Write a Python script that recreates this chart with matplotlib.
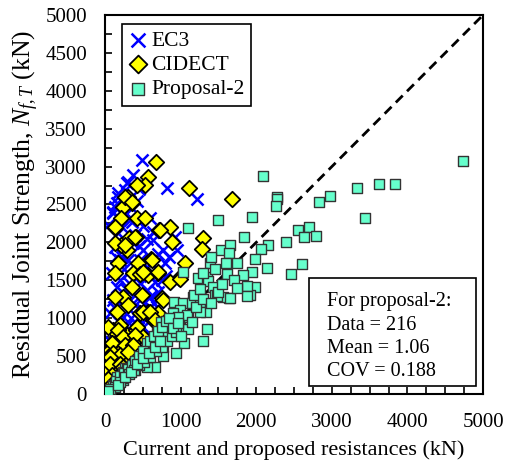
import matplotlib
matplotlib.use("Agg")
import matplotlib.pyplot as plt
from matplotlib.patches import Rectangle
from matplotlib.ticker import MultipleLocator

plt.rcParams['font.family'] = ['Liberation Serif', 'DejaVu Serif']
plt.rcParams['mathtext.fontset'] = 'custom'
plt.rcParams['mathtext.rm'] = 'Liberation Serif'
plt.rcParams['mathtext.it'] = 'Liberation Serif:italic'

# ---------------- data (x = resistance, y = residual joint strength, kN) -------------
ec3_x = [485, 375, 309, 265, 816, 1213, 176, 132, 110, 331, 44, 287, 176, 154, 110, 595,
         639, 507, 353, 926, 948, 639, 794, 705, 662, 552, 595, 463, 684, 507, 617, 507,
         375, 287, 463, 375, 198, 110, 22, 176, 132, 198, 88, 154, 110, 66, 44, 22, 287,
         419, 375, 331, 242, 463, 552, 771, 463, 309, 375, 220, 250, 200, 260, 330, 400,
         430, 350, 250, 150, 180, 90, 60, 120, 500, 550, 700, 750, 850, 800, 700, 650,
         600, 550, 420, 300, 240, 160, 80, 40, 30, 100, 60, 120, 200, 150, 260, 220, 350,
         420, 450, 400, 450, 600, 300, 340, 280, 200]
ec3_y = [3086, 2889, 2800, 2691, 2713, 2568, 2602, 2471, 2383, 2295, 2229, 2778, 2647, 2514,
         2405, 2317, 2141, 2216, 2273, 2075, 1899, 2031, 1723, 1636, 1481, 1372, 1284, 1240,
         1152, 1108, 998, 888, 888, 756, 580, 492, 360, 185, 53, 2119, 1943, 1767, 1592,
         1416, 1240, 1064, 844, 580, 1372, 1547, 1196, 1108, 1020, 1460, 1679, 1899, 1767,
         1767, 1988, 1800, 1650, 1500, 1300, 1450, 1300, 1000, 700, 600, 700, 950, 400,
         250, 500, 1900, 2050, 1850, 1500, 1800, 1550, 1350, 1200, 1150, 1000, 800, 650,
         500, 400, 300, 150, 100, 900, 700, 1150, 1200, 1800, 2400, 2200, 2450, 2550, 2700,
         2100, 1950, 1550, 1600, 1000, 900, 800]

cidect_x = [675, 564, 529, 419, 1116, 1676, 309, 361, 242, 207, 419, 529, 132, 718, 860, 410,
            322, 881, 1293, 1279, 295, 207, 176, 604, 441, 1058, 132, 375, 463, 573, 705, 983,
            860, 353, 485, 750, 242, 309, 154, 463, 573, 705, 639, 198, 110, 287, 410, 485,
            221, 375, 66, 176, 309, 110, 44, 287, 10, 265, 353, 132, 728, 132, 265, 397, 617,
            507, 705, 992, 132, 771, 507, 595, 662, 44, 176, 419, 242, 397, 88, 265, 375,
            110, 198, 309, 66, 154, 30, 60, 90, 120, 200, 240, 40, 80]
cidect_y = [3064, 2866, 2757, 2757, 2713, 2568, 2602, 2525, 2471, 2317, 2317, 2317, 2185, 2163,
            2207, 2075, 2053, 2009, 2053, 1908, 1899, 1965, 1723, 1776, 1723, 1723, 1592, 1592,
            1583, 1570, 1600, 1526, 1481, 1416, 1306, 1262, 1284, 1174, 1086, 1064, 1086, 1072,
            976, 910, 844, 778, 844, 765, 669, 690, 580, 536, 603, 360, 492, 470, 141, 2602,
            2537, 2207, 2163, 1988, 1965, 2075, 1767, 1613, 1613, 1512, 1284, 1240, 1086, 1086,
            976, 888, 844, 888, 756, 778, 669, 646, 646, 536, 514, 558, 492, 229, 300, 400,
            250, 150, 400, 350, 200, 120]

prop_x = [4737, 2086, 2271, 2277, 2258, 2831, 2977, 3330, 3629, 3832, 3444, 1940, 2549, 2693,
          2633, 2787, 2395, 2161, 2060, 1985, 1940, 2139, 2457, 2602, 1985, 1918, 1500, 1102,
          1843, 1531, 1654, 1645, 1389, 1601, 1742, 1610, 1830, 1036, 1234, 1345, 1367, 1433,
          1455, 1645, 1557, 1875, 1875, 913, 1036, 1168, 1147, 1257, 1336, 992, 904, 1102,
          983, 741, 838, 992, 1102, 1345, 1045, 1293, 939, 771, 771, 684, 552, 552, 662, 419,
          397, 242, 44, 265, 1477, 1654, 1089, 970, 1257, 881, 684, 794, 771, 552, 552, 287,
          221, 66, 110, 154, 242, 552, 100, 150, 200, 250, 300, 350, 400, 450, 500, 600, 650,
          700, 750, 800, 850, 320, 380, 450, 520, 600, 680, 750, 820, 880, 940, 200, 130, 60,
          40, 170, 260, 340, 420, 500, 580, 660, 730, 900, 960, 1000, 1150, 1200, 1180, 1250,
          1300, 1400, 1500, 1700, 1750, 1550, 1300, 1400, 1450]
prop_y = [3073, 2875, 2602, 2572, 2480, 2537, 2612, 2713, 2766, 2770, 2326, 2339, 2163, 2207,
          2075, 2084, 2009, 1965, 1908, 1776, 1613, 1657, 1583, 1715, 1416, 1306, 2295, 2194,
          2066, 1899, 1965, 1855, 1732, 1732, 1723, 1583, 1570, 1613, 1526, 1539, 1486, 1416,
          1306, 1270, 1284, 1425, 1297, 1217, 1196, 1284, 1196, 1174, 1086, 1108, 1064, 1020,
          998, 954, 822, 866, 853, 857, 669, 703, 545, 624, 756, 669, 669, 537, 360, 448,
          317, 185, 53, 339, 1293, 1262, 1042, 1020, 1077, 910, 800, 765, 501, 352, 492, 339,
          207, 53, 119, 229, 295, 558, 110, 170, 230, 280, 330, 380, 430, 500, 560, 700, 760,
          830, 880, 960, 1000, 260, 320, 380, 420, 480, 560, 620, 700, 760, 820, 150, 90, 70,
          40, 120, 220, 290, 400, 470, 540, 620, 700, 870, 940, 760, 950, 1150, 1300, 1380,
          1250, 1200, 1350, 1500, 1400, 1450, 1600, 1800, 1650]

stats_lines = ["For proposal-2:", "Data = 216", "Mean = 1.06", "COV = 0.188"]

# ---------------- figure -------------
fig = plt.figure(figsize=(5.15, 4.7), dpi=100)
ax = fig.add_axes([0.204, 0.162, 0.734, 0.806])

ax.plot([0, 5000], [0, 5000], color='black', lw=2, ls=(0, (3.5, 2.2)), zorder=1)

ax.scatter(ec3_x, ec3_y, marker='x', s=75, color='#0000FF', linewidths=1.8,
           label='EC3', zorder=2)
ax.scatter(cidect_x, cidect_y, marker='D', s=62, facecolor='#FFFF00', edgecolor='black',
           linewidths=1.3, label='CIDECT', zorder=3)
ax.scatter(prop_x, prop_y, marker='s', s=62, facecolor='#66FFCC', edgecolor='#333333',
           linewidths=1.0, label='Proposal-2', zorder=4)

ax.set_xlim(0, 5000)
ax.set_ylim(0, 5000)
ax.xaxis.set_major_locator(MultipleLocator(1000))
ax.xaxis.set_minor_locator(MultipleLocator(250))
ax.yaxis.set_major_locator(MultipleLocator(500))
ax.yaxis.set_minor_locator(MultipleLocator(250))
ax.tick_params(which='both', direction='in', length=5, width=1.2, labelsize=15,
               top=False, right=False)
ax.tick_params(axis='x', pad=14)
ax.tick_params(axis='y', pad=13)
for sp in ax.spines.values():
    sp.set_linewidth(1.5)

ax.set_xlabel('Current and proposed resistances (kN)', fontsize=16, labelpad=6)
ax.set_ylabel('Residual Joint Strength, $N_{f,T}$ (kN)', fontsize=18.5, labelpad=3)

leg = ax.legend(loc='upper left', bbox_to_anchor=(0.045, 0.976), borderaxespad=0,
                fontsize=15.5, fancybox=False, framealpha=1, edgecolor='black',
                handletextpad=0.15, handlelength=0.9, borderpad=0.3, labelspacing=0.2,
                markerscale=1.15)
leg.get_frame().set_linewidth(1.2)

ax.add_patch(Rectangle((0.540, 0.021), 0.441, 0.285, transform=ax.transAxes,
                       facecolor='white', edgecolor='black', lw=1.2, zorder=5))
ax.text(0.587, 0.268, "\n".join(stats_lines), transform=ax.transAxes, fontsize=14.5,
        va='top', ha='left', linespacing=1.3, zorder=6)

fig.savefig('out.png', dpi=100)
